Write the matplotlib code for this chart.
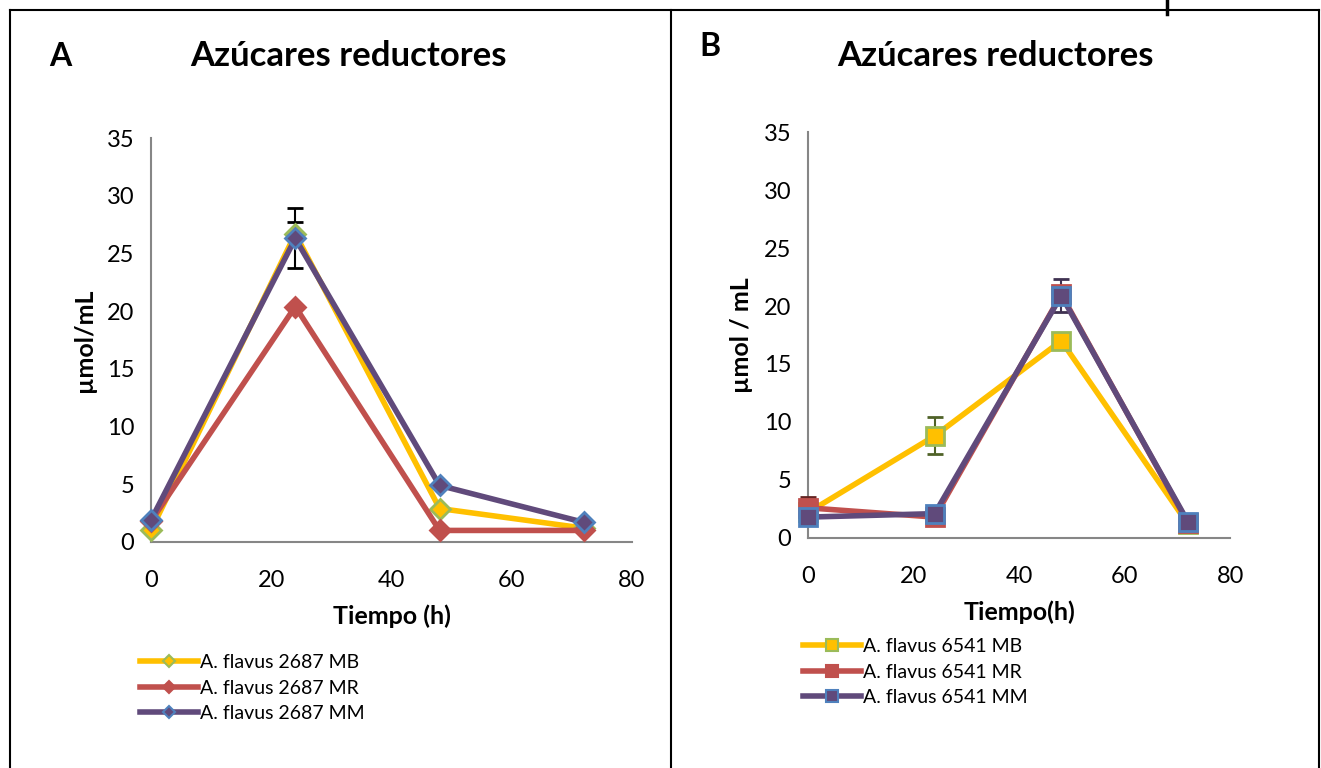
import matplotlib.pyplot as plt
from matplotlib.lines import Line2D

plt.rcParams['font.family'] = ['Lato', 'DejaVu Sans']

# time points (h)
tiempo = [0, 24, 48, 72]

# panel A: A. flavus 2687
a_mb = [1.0, 26.7, 2.9, 1.2]
a_mr = [1.8, 20.4, 1.0, 1.0]
a_mm = [1.9, 26.3, 4.9, 1.7]
a_mb_err = [0, 1.0, 0, 0]
a_mm_err = [0, 2.6, 0, 0]

# panel B: A. flavus 6541
b_mb = [2.2, 8.8, 17.0, 1.2]
b_mr = [2.6, 1.8, 21.0, 1.3]
b_mm = [1.8, 2.1, 20.9, 1.4]
b_mb_err = [0, 1.6, 0, 0]
b_mr_err = [0.9, 0, 0, 0]
b_mm_err = [0, 0, 1.4, 0]

labels_a = ["A. flavus 2687 MB", "A. flavus 2687 MR", "A. flavus 2687 MM"]
labels_b = ["A. flavus 6541 MB", "A. flavus 6541 MR", "A. flavus 6541 MM"]

YELLOW = '#FFC000'
GREEN = '#9BBB59'
RED = '#C0504D'
PURPLE = '#604A7B'
BLUE = '#4F81BD'
GRID = '#868686'

# (line colour, marker face, marker edge) per series
styles = [(YELLOW, YELLOW, GREEN), (RED, RED, RED), (PURPLE, PURPLE, BLUE)]

fig = plt.figure(figsize=(13.21, 7.68), dpi=100)

# table borders
for xs, ys, lw in [([10, 1319], [10, 10], 1.5), ([10, 10], [10, 768], 1.5),
                   ([671, 671], [10, 768], 1.5), ([1319, 1319], [10, 768], 1.5),
                   ([1167, 1167], [0, 14], 2.5)]:
    fig.add_artist(Line2D([x / 1321 for x in xs], [1 - y / 768 for y in ys],
                          color='black', lw=lw))


def style_axes(ax):
    for s in ['top', 'right']:
        ax.spines[s].set_visible(False)
    for s in ['left', 'bottom']:
        ax.spines[s].set_color(GRID)
        ax.spines[s].set_linewidth(1.5)
    ax.set_xlim(0, 80)
    ax.set_ylim(0, 35)
    ax.set_xticks([0, 20, 40, 60, 80])
    ax.set_yticks(range(0, 36, 5))
    ax.tick_params(length=0, labelsize=17)
    ax.tick_params(axis='y', pad=12)
    ax.tick_params(axis='x', pad=20)


def legend_handles(marker, ms):
    return [Line2D([], [], color=c, lw=4, marker=marker, ms=ms, mfc=f, mec=e, mew=1.5)
            for c, f, e in styles]


# ---- panel A ----
axA = fig.add_axes([0.1143, 0.2943, 0.3641, 0.526])
style_axes(axA)
for ys, err, (c, f, e) in zip([a_mb, a_mr, a_mm], [a_mb_err, None, a_mm_err], styles):
    axA.errorbar(tiempo, ys, yerr=err, color=c, lw=4, marker='D', ms=10,
                 mfc=f, mec=e, mew=2, ecolor='black', elinewidth=1.5, capsize=6,
                 capthick=1.5, clip_on=False, zorder=3)
axA.set_xlabel("Tiempo (h)", fontsize=18, fontweight='bold', labelpad=10)
axA.set_ylabel("µmol/mL", fontsize=18, fontweight='bold', labelpad=8)
fig.text(60 / 1321, 1 - 57 / 768, "A", fontsize=23, fontweight='bold', ha='center', va='center')
fig.text(348 / 1321, 1 - 56 / 768, "Azúcares reductores", fontsize=25, fontweight='bold',
         ha='center', va='center')
fig.legend(legend_handles('D', 6), labels_a, loc='upper left',
           bbox_to_anchor=(132 / 1321, 1 - 646 / 768),
           frameon=False, fontsize=14, handlelength=3.0, handletextpad=0.1,
           labelspacing=0.45, borderaxespad=0)

# ---- panel B ----
axB = fig.add_axes([0.6117, 0.2995, 0.3195, 0.5286])
style_axes(axB)
ecols = ['#4F6228', '#632523', '#3F3151']
for ys, err, (c, f, e), ec in zip([b_mb, b_mr, b_mm], [b_mb_err, b_mr_err, b_mm_err],
                                  styles, ecols):
    axB.errorbar(tiempo, ys, yerr=err, color=c, lw=4, marker='s', ms=13,
                 mfc=f, mec=e, mew=2, ecolor=ec, elinewidth=1.5, capsize=6,
                 capthick=1.5, clip_on=False, zorder=3)
axB.set_xlabel("Tiempo(h)", fontsize=18, fontweight='bold', labelpad=10)
axB.set_ylabel("µmol / mL", fontsize=18, fontweight='bold', labelpad=8)
fig.text(710 / 1321, 1 - 47 / 768, "B", fontsize=23, fontweight='bold', ha='center', va='center')
fig.text(995 / 1321, 1 - 56 / 768, "Azúcares reductores", fontsize=25, fontweight='bold',
         ha='center', va='center')
fig.legend(legend_handles('s', 8), labels_b, loc='upper left',
           bbox_to_anchor=(795 / 1321, 1 - 630 / 768),
           frameon=False, fontsize=14, handlelength=3.0, handletextpad=0.1,
           labelspacing=0.45, borderaxespad=0)

fig.savefig('out.png', dpi=100)
